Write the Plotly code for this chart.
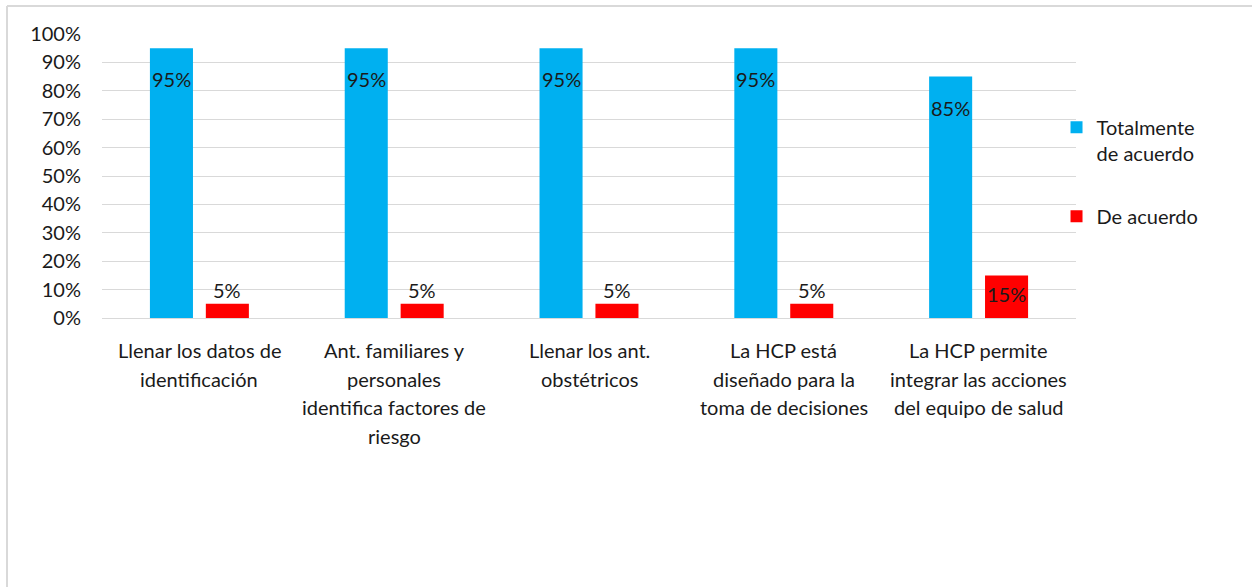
import plotly.graph_objects as go

# Survey items (x categories) and the wrapped lines shown under each one
categories = [
    "Llenar los datos de identificación",
    "Ant. familiares y personales identifica factores de riesgo",
    "Llenar los ant. obstétricos",
    "La HCP está diseñado para la toma de decisiones",
    "La HCP permite integrar las acciones del equipo de salud",
]
category_lines = [
    ["Llenar los datos de", "identificación"],
    ["Ant. familiares y", "personales", "identifica factores de", "riesgo"],
    ["Llenar los ant.", "obstétricos"],
    ["La HCP está", "diseñado para la", "toma de decisiones"],
    ["La HCP permite", "integrar las acciones", "del equipo de salud"],
]

# Share of answers per item
totalmente = [0.95, 0.95, 0.95, 0.95, 0.85]
de_acuerdo = [0.05, 0.05, 0.05, 0.05, 0.15]

series_names = ["Totalmente<br>de acuerdo", "De acuerdo"]
series_colors = ["#00b0f0", "#ff0000"]

y_ticks = [i / 10 for i in range(11)]
y_ticktext = [f"{i * 10}%" for i in range(11)]

FONT = "Lato, 'Open Sans', sans-serif"
TEXT = "#1a1a1a"
SIZE = 20

fig = go.Figure()
for name, vals, color in zip(series_names, [totalmente, de_acuerdo], series_colors):
    fig.add_trace(go.Bar(
        x=categories, y=vals, name=name,
        marker=dict(color=color, line=dict(width=0)),
        legendgroup=name,
    ))

annotations = []
# value labels: inside near the top for tall bars, above the bar for short ones
for vals, xshift in [(totalmente, -28), (de_acuerdo, 28)]:
    for cat, v in zip(categories, vals):
        label = f"{round(v * 100)}%"
        if v >= 0.5:
            annotations.append(dict(x=cat, y=v, text=label, xshift=xshift, yshift=-17,
                                    yanchor="top", showarrow=False))
        elif v >= 0.1:
            annotations.append(dict(x=cat, y=v, text=label, xshift=xshift, yshift=-5,
                                    yanchor="top", showarrow=False))
        else:
            annotations.append(dict(x=cat, y=v, text=label, xshift=xshift, yshift=0,
                                    yanchor="bottom", showarrow=False))

# category labels, one annotation per wrapped line
for cat, lines in zip(categories, category_lines):
    for i, line in enumerate(lines):
        annotations.append(dict(x=cat, y=0, text=line, yanchor="middle", showarrow=False,
                                yshift=-(32 + 28.5 * i)))

fig.update_layout(
    width=1252, height=587,
    margin=dict(l=102, r=176, t=34, b=269),
    paper_bgcolor="white", plot_bgcolor="white",
    font=dict(family=FONT, size=SIZE, color=TEXT),
    barmode="group", bargap=0.426, bargroupgap=0.23,
    showlegend=True,
    legend=dict(x=0.98, xanchor="left", y=0.74, yanchor="top",
                font=dict(size=SIZE, color=TEXT), valign="top",
                traceorder="grouped", tracegroupgap=34,
                itemwidth=30, bgcolor="rgba(0,0,0,0)"),
    annotations=annotations,
    xaxis=dict(showticklabels=False, showgrid=False, zeroline=False,
               showline=False, ticks=""),
    yaxis=dict(range=[0, 1], tickvals=y_ticks, ticktext=y_ticktext,
               showgrid=True, gridcolor="#d9d9d9", gridwidth=1,
               zeroline=True, zerolinecolor="#d9d9d9", zerolinewidth=1,
               showline=False, ticks="", ticklabelstandoff=20,
               tickfont=dict(size=SIZE, color=TEXT)),
    shapes=[
        # outer chart frame (top and left edges)
        dict(type="line", xref="paper", yref="paper",
             x0=(7 - 102) / 974, x1=(1252 - 102) / 974,
             y0=1 + (34 - 6) / 284, y1=1 + (34 - 6) / 284,
             line=dict(color="#d9d9d9", width=2)),
        dict(type="line", xref="paper", yref="paper",
             x0=(7 - 102) / 974, x1=(7 - 102) / 974,
             y0=1 + (34 - 6) / 284, y1=-(587 - 318) / 284,
             line=dict(color="#d9d9d9", width=2)),
    ],
)

fig.write_html("out.html")
